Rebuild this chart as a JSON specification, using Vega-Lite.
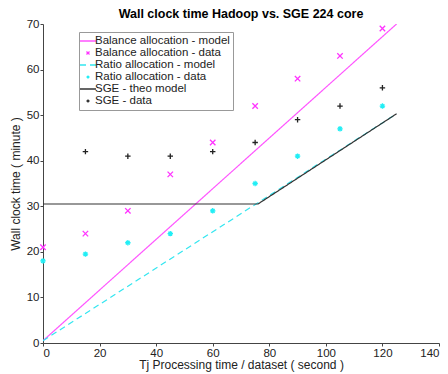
{
  "$schema": "https://vega.github.io/schema/vega-lite/v6.json",
  "width": 396,
  "height": 319,
  "autosize": {"type": "none"},
  "padding": {"left": 43, "top": 24, "right": 9, "bottom": 31},
  "background": "white",
  "title": {"text": "Wall clock time Hadoop vs. SGE 224 core", "font": "Liberation Sans", "fontSize": 12.5, "fontWeight": "bold", "color": "#000", "offset": -2},
  "config": {
    "view": {"stroke": null},
    "font": "Liberation Sans",
    "axis": {"grid": false, "domainColor": "#444", "tickColor": "#444", "labelColor": "#222", "titleColor": "#222", "labelFontSize": 11.5, "titleFontSize": 12, "titleFontWeight": "normal", "tickSize": 3, "labelPadding": 1, "labelFont": "Liberation Sans", "titleFont": "Liberation Sans"}
  },
  "data": {"values": [
    {"x": 0, "y": 0.5, "series": "Balance allocation - model", "kind": "model"},
    {"x": 125, "y": 70, "series": "Balance allocation - model", "kind": "model"},
    {"x": 0, "y": 21, "series": "Balance allocation - data", "kind": "data"},
    {"x": 15, "y": 24, "series": "Balance allocation - data", "kind": "data"},
    {"x": 30, "y": 29, "series": "Balance allocation - data", "kind": "data"},
    {"x": 45, "y": 37, "series": "Balance allocation - data", "kind": "data"},
    {"x": 60, "y": 44, "series": "Balance allocation - data", "kind": "data"},
    {"x": 75, "y": 52, "series": "Balance allocation - data", "kind": "data"},
    {"x": 90, "y": 58, "series": "Balance allocation - data", "kind": "data"},
    {"x": 105, "y": 63, "series": "Balance allocation - data", "kind": "data"},
    {"x": 120, "y": 69, "series": "Balance allocation - data", "kind": "data"},
    {"x": 0, "y": 0.5, "series": "Ratio allocation - model", "kind": "model"},
    {"x": 125, "y": 50.3, "series": "Ratio allocation - model", "kind": "model"},
    {"x": 0, "y": 18, "series": "Ratio allocation - data", "kind": "data"},
    {"x": 15, "y": 19.5, "series": "Ratio allocation - data", "kind": "data"},
    {"x": 30, "y": 22, "series": "Ratio allocation - data", "kind": "data"},
    {"x": 45, "y": 24, "series": "Ratio allocation - data", "kind": "data"},
    {"x": 60, "y": 29, "series": "Ratio allocation - data", "kind": "data"},
    {"x": 75, "y": 35, "series": "Ratio allocation - data", "kind": "data"},
    {"x": 90, "y": 41, "series": "Ratio allocation - data", "kind": "data"},
    {"x": 105, "y": 47, "series": "Ratio allocation - data", "kind": "data"},
    {"x": 120, "y": 52, "series": "Ratio allocation - data", "kind": "data"},
    {"x": 0, "y": 30.5, "series": "SGE - theo model", "kind": "model"},
    {"x": 76, "y": 30.5, "series": "SGE - theo model", "kind": "model"},
    {"x": 125, "y": 50.3, "series": "SGE - theo model", "kind": "model"},
    {"x": 15, "y": 42, "series": "SGE - data", "kind": "data"},
    {"x": 30, "y": 41, "series": "SGE - data", "kind": "data"},
    {"x": 45, "y": 41, "series": "SGE - data", "kind": "data"},
    {"x": 60, "y": 42, "series": "SGE - data", "kind": "data"},
    {"x": 75, "y": 44, "series": "SGE - data", "kind": "data"},
    {"x": 90, "y": 49, "series": "SGE - data", "kind": "data"},
    {"x": 105, "y": 52, "series": "SGE - data", "kind": "data"},
    {"x": 120, "y": 56, "series": "SGE - data", "kind": "data"}
  ]},
  "encoding": {
    "x": {"field": "x", "type": "quantitative", "scale": {"domain": [0, 140], "nice": false, "zero": false}, "axis": {"values": [0, 20, 40, 60, 80, 100, 120, 140], "title": "Tj Processing time / dataset ( second )", "titlePadding": 1}},
    "y": {"field": "y", "type": "quantitative", "scale": {"domain": [0, 70], "nice": false}, "axis": {"values": [0, 10, 20, 30, 40, 50, 60, 70], "title": "Wall clock time ( minute )", "titlePadding": 4}},
    "color": {"field": "series", "type": "nominal",
      "scale": {"domain": ["Balance allocation - model", "Balance allocation - data", "Ratio allocation - model", "Ratio allocation - data", "SGE - theo model", "SGE - data"],
                "range": ["#ff55ff", "#ff33ff", "#33e6f0", "#22eef5", "#333333", "#222222"]},
      "legend": {"title": null, "orient": "none", "legendX": 36, "legendY": 8, "strokeColor": "#999", "fillColor": "white", "padding": 3, "labelFontSize": 11.5, "labelColor": "#222", "labelFont": "Liberation Sans", "rowPadding": 0, "symbolSize": 100, "symbolStrokeWidth": 1.3, "labelOffset": 1, "cornerRadius": 0}}
  },
  "layer": [
    {
      "transform": [{"filter": "datum.kind == 'model'"}],
      "mark": {"type": "line", "strokeWidth": 1.2, "clip": true},
      "encoding": {
        "detail": {"field": "series"},
        "shape": {"field": "series", "type": "nominal", "scale": {"domain": ["Balance allocation - model", "Balance allocation - data", "Ratio allocation - model", "Ratio allocation - data", "SGE - theo model", "SGE - data"], "range": ["M-1.6,0L1.6,0", "M-0.3,-0.3L0.3,0.3M-0.3,0.3L0.3,-0.3", "M-1.6,0L1.6,0", "M-0.3,0L0.3,0M0,-0.3L0,0.3M-0.21,-0.21L0.21,0.21M-0.21,0.21L0.21,-0.21", "M-1.6,0L1.6,0", "M-0.3,0L0.3,0M0,-0.3L0,0.3"]}},
        "strokeDash": {"field": "series", "type": "nominal", "scale": {"domain": ["Balance allocation - model", "Balance allocation - data", "Ratio allocation - model", "Ratio allocation - data", "SGE - theo model", "SGE - data"], "range": [[1, 0], [1, 0], [6, 4], [1, 0], [1, 0], [1, 0]]}}
      }
    },
    {
      "transform": [{"filter": "datum.kind == 'data'"}],
      "mark": {"type": "point", "filled": false, "size": 330, "strokeWidth": 1.3, "opacity": 1},
      "encoding": {
        "shape": {"field": "series", "type": "nominal"}
      }
    }
  ]
}
